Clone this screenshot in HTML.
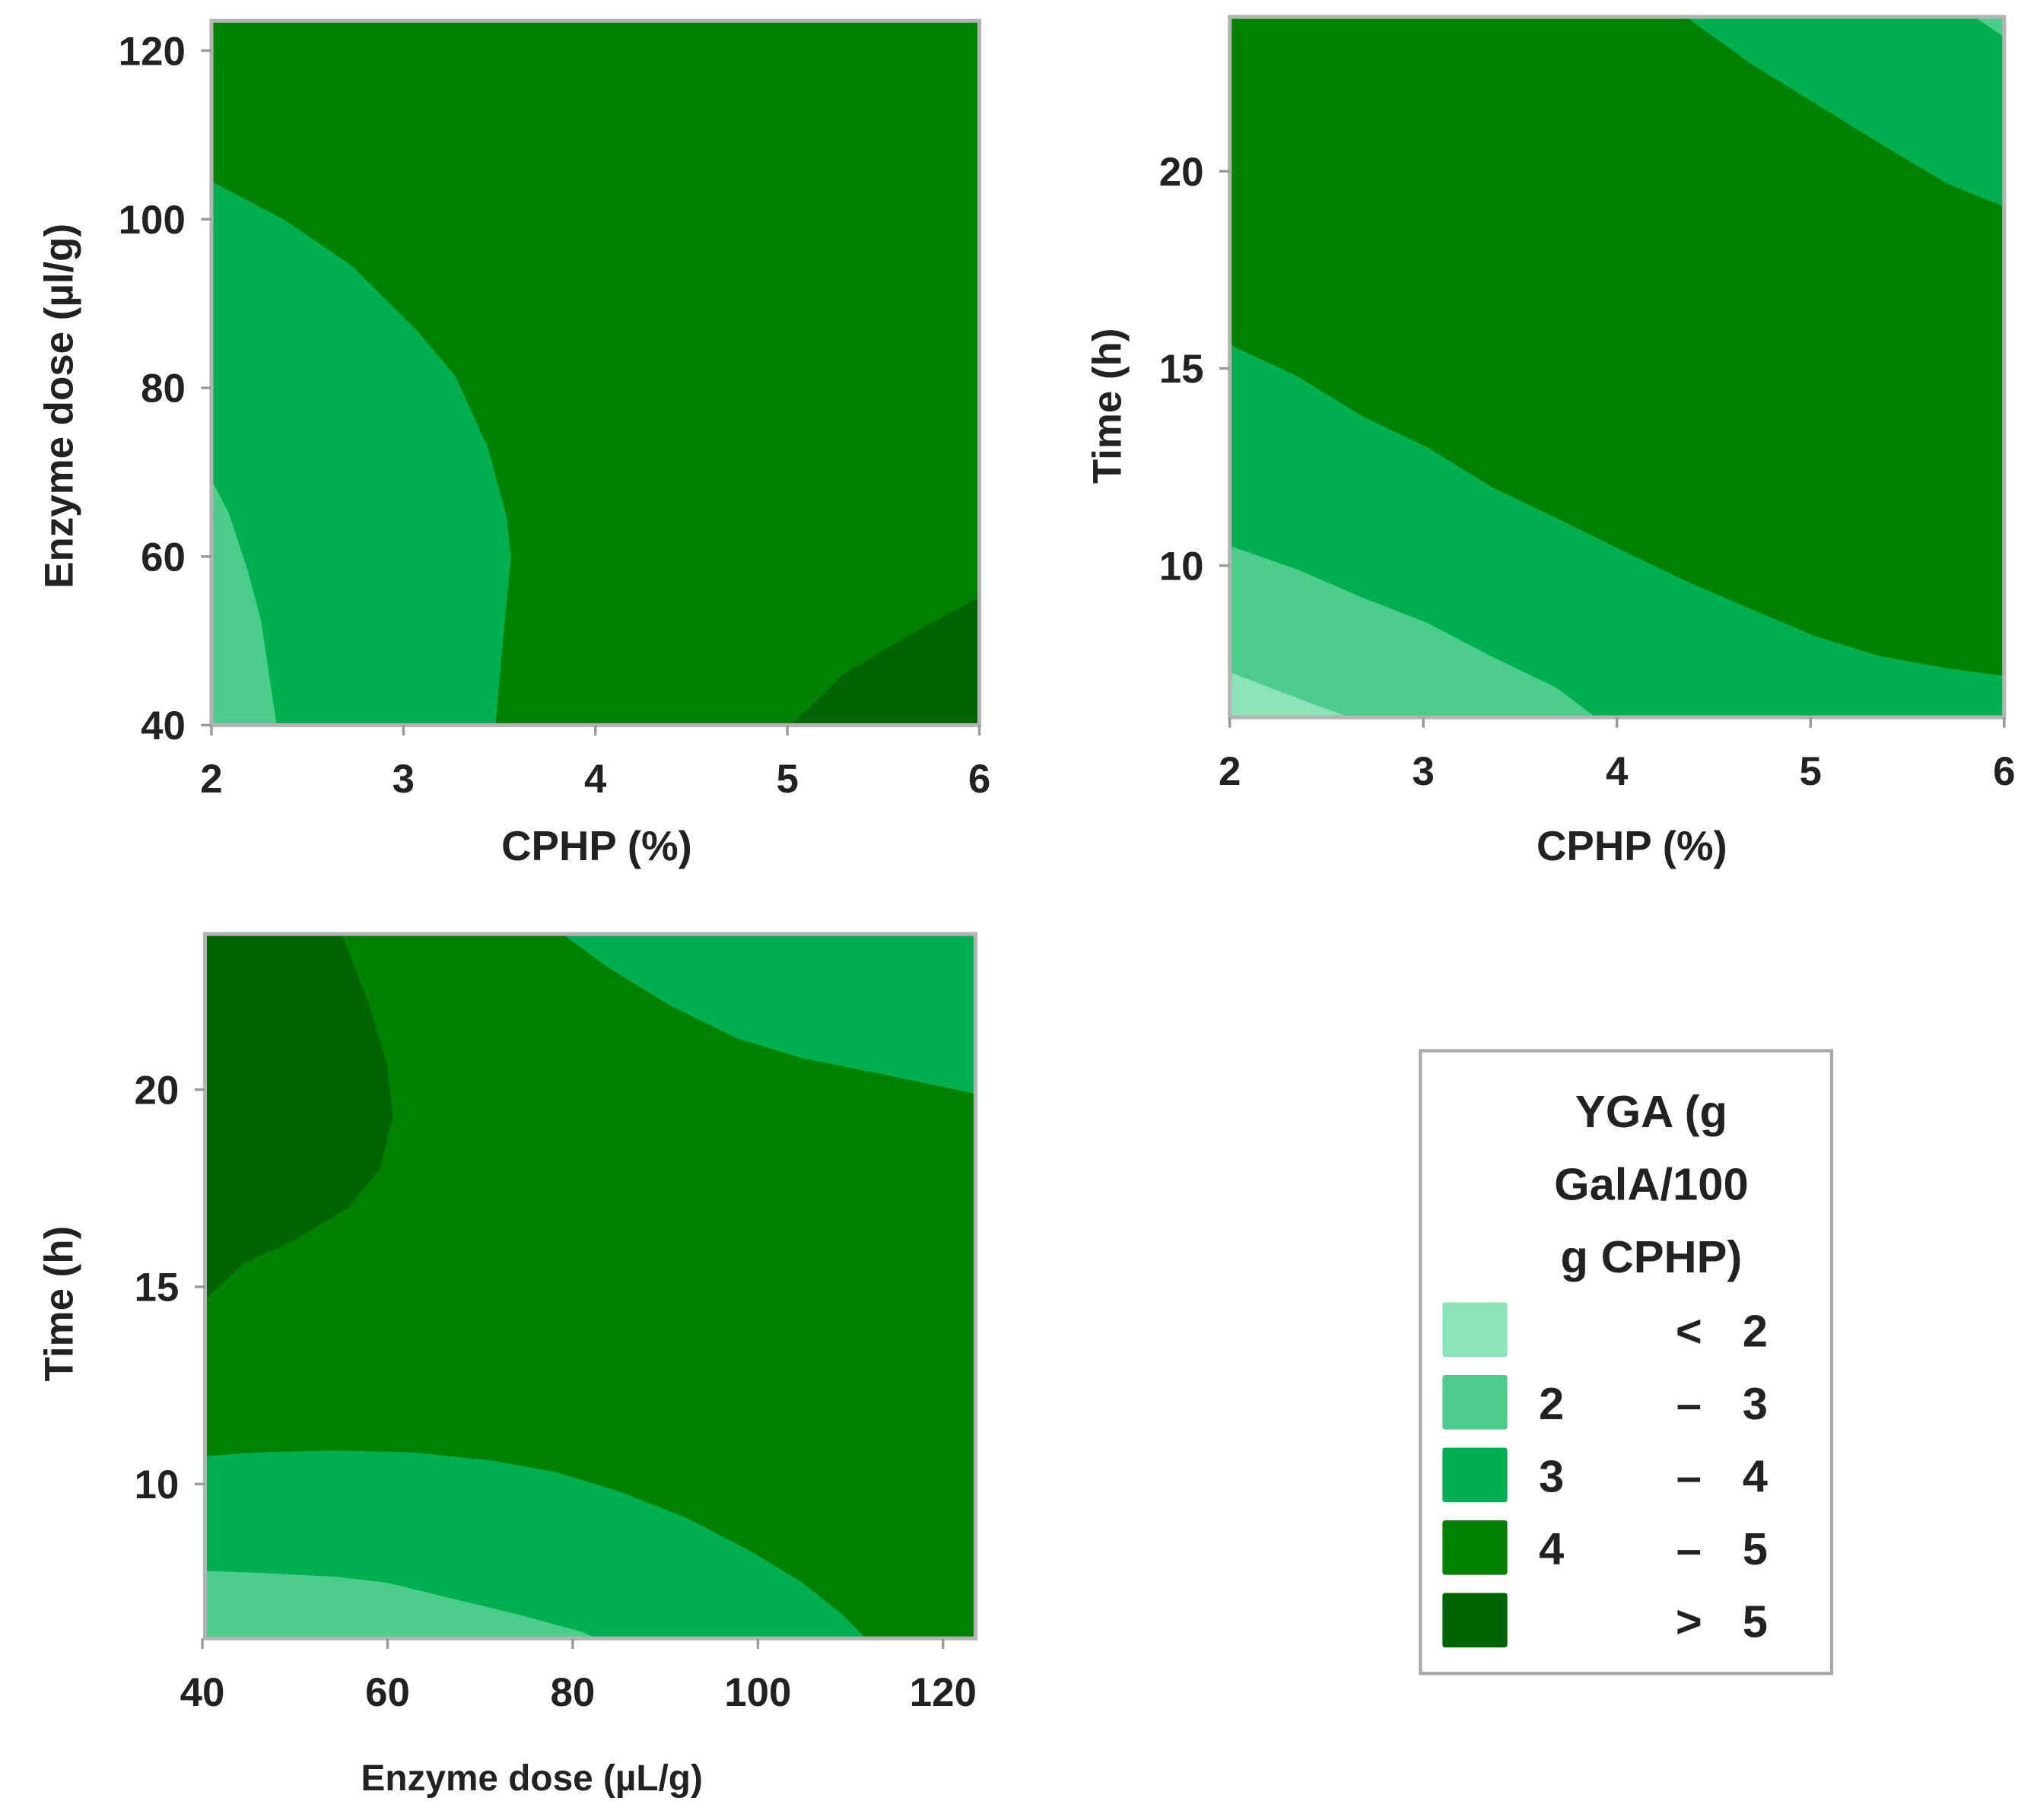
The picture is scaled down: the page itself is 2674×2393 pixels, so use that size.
<!DOCTYPE html>
<html><head><meta charset="utf-8">
<style>
html,body{margin:0;padding:0;background:#fff;}
svg{display:block;}
text{font-family:"Liberation Sans",sans-serif;fill:#222;font-weight:bold;}
</style></head>
<body>
<svg id="fig" width="2674" height="2393" viewBox="0 0 1568 1403" preserveAspectRatio="none" xmlns="http://www.w3.org/2000/svg"></svg>
<script>
// ---- data ----
const levelColors = ["#8be3b7", "#4ccd8b", "#00b050", "#008200", "#006400"];
const levelNames = ["lt2", "2to3", "3to4", "4to5", "gt5"];
const legendLow = ["", "2", "3", "4", ""];
const legendSep = ["<", "–", "–", "–", ">"];
const legendHigh = ["2", "3", "4", "5", "5"];

// Panel 1: CPHP (%) vs Enzyme dose
const p1XTicks = [2, 3, 4, 5, 6];
const p1YTicks = [40, 60, 80, 100, 120];
const p1Base = 3;
const p1Region34 = [[2,104.5],[2.39,99.8],[2.73,94.5],[3.07,86.8],[3.27,81.4],[3.44,72.9],[3.54,64.5],[3.56,59.8],[3.52,50.6],[3.48,40],[2,40]];
const p1Region23 = [[2,69.1],[2.09,65.2],[2.19,58.3],[2.26,52.2],[2.30,46],[2.34,40],[2,40]];
const p1RegionGt5 = [[5.02,40],[5.29,46],[5.63,50.6],[6,55.2],[6,40]];

// Panel 2: CPHP (%) vs Time
const p2XTicks = [2, 3, 4, 5, 6];
const p2YTicks = [10, 15, 20];
const p2Base = 3;
const p2RegionTop34 = [[4.36,23.9],[4.70,22.7],[5.03,21.7],[5.36,20.7],[5.70,19.7],[6,19.1],[6,23.9]];
const p2RegionTop23 = [[5.85,23.9],[6,23.4],[6,23.9]];
const p2RegionLow34 = [[2,15.6],[2.35,14.8],[2.68,13.8],[3.02,13.0],[3.35,12.0],[3.69,11.2],[4.02,10.4],[4.36,9.6],[4.69,8.9],[5.03,8.2],[5.36,7.7],[5.70,7.4],[6,7.2],[6,6.15],[2,6.15]];
const p2Region23 = [[2,10.5],[2.35,9.9],[2.68,9.2],[3.02,8.55],[3.35,7.7],[3.69,6.9],[3.89,6.15],[2,6.15]];
const p2RegionLt2 = [[2,7.3],[2.21,6.9],[2.48,6.4],[2.62,6.15],[2,6.15]];

// Panel 3: Enzyme dose vs Time
const p3XTicks = [40, 60, 80, 100, 120];
const p3YTicks = [10, 15, 20];
const p3Base = 3;
const p3RegionGt5 = [[40,23.95],[55.0,23.95],[57.8,22.3],[59.9,20.7],[60.6,19.35],[59.2,18.0],[55.7,17.0],[50.1,16.2],[44.5,15.6],[40,14.6]];
const p3RegionTop34 = [[78.9,23.95],[83.8,23.1],[90.8,22.1],[97.8,21.3],[104.8,20.8],[113.3,20.4],[123.4,19.9],[123.4,23.95]];
const p3RegionLow34 = [[40,10.7],[45.9,10.8],[54.3,10.85],[62.7,10.8],[71.2,10.6],[78.2,10.3],[85.2,9.8],[92.2,9.15],[99.2,8.3],[104.8,7.5],[109.1,6.7],[111.6,6.1],[40,6.1]];
const p3Region23 = [[40,7.8],[45.9,7.75],[54.3,7.65],[59.9,7.5],[66.9,7.1],[74,6.7],[81,6.25],[82.4,6.1],[40,6.1]];

// ---- rendering ----
const NS = "http://www.w3.org/2000/svg";
const svg = document.getElementById("fig");
function mk(tag, attrs, parent){const e=document.createElementNS(NS,tag);for(const k in attrs)e.setAttribute(k,attrs[k]);(parent||svg).appendChild(e);return e;}
function lin(d0,d1,r0,r1){return v=>r0+(v-d0)*(r1-r0)/(d1-d0);}

function panel(cfg){
  const g = mk("g",{});
  
  
  const sx=cfg.sx, sy=cfg.sy;
  const clipId=cfg.name+"-clip";
  const cp=mk("clipPath",{id:clipId},g);
  mk("rect",{x:cfg.L,y:cfg.T,width:cfg.R-cfg.L,height:cfg.B-cfg.T},cp);
  const bg=mk("rect",{x:cfg.L,y:cfg.T,width:cfg.R-cfg.L,height:cfg.B-cfg.T,fill:levelColors[cfg.base]},g);
  
  
  const rg=mk("g",{"clip-path":"url(#"+clipId+")"},g);
  cfg.regions.forEach(r=>{
    const pts=r.pts.map(p=>sx(p[0]).toFixed(1)+","+sy(p[1]).toFixed(1)).join(" ");
    const pg=mk("polygon",{points:pts,fill:levelColors[r.lvl]},rg);
    
    
  });
  const fr=mk("rect",{x:cfg.L,y:cfg.T,width:cfg.R-cfg.L,height:cfg.B-cfg.T,fill:"none",stroke:"#b4b4b4","stroke-width":3},g);
  
  
  cfg.xt.forEach(v=>{
    const x=sx(v);
    const tk=mk("line",{x1:x,x2:x,y1:cfg.B,y2:cfg.B+8,stroke:"#999","stroke-width":2},g);
    
    
    const t=mk("text",{x:x,y:cfg.B+52,"text-anchor":"middle","font-size":31},g);
    t.textContent=v;
    
    
  });
  cfg.yt.forEach(v=>{
    const y=sy(v);
    const tk=mk("line",{x1:cfg.L-8,x2:cfg.L,y1:y,y2:y,stroke:"#999","stroke-width":2},g);
    
    
    const t=mk("text",{x:cfg.L-20,y:y+11,"text-anchor":"end","font-size":31},g);
    t.textContent=v;
    
    
  });
  const xt=mk("text",{x:cfg.xtx,y:cfg.xty,"text-anchor":"middle","font-size":cfg.xfs},g);
  xt.textContent=cfg.xtitle;
  
  
  const yt=mk("text",{x:0,y:0,"text-anchor":"middle","font-size":31,transform:"translate("+cfg.ytx+","+cfg.yty+") rotate(-90)"},g);
  yt.textContent=cfg.ytitle;
  
  
}

panel({name:"panel-cphp-enzyme",L:163,R:755,T:16,B:559,
  sx:lin(2,6,163,755), sy:lin(40,120,559,39),
  base:p1Base, xt:p1XTicks, yt:p1YTicks,
  regions:[{pts:p1Region34,lvl:2},{pts:p1Region23,lvl:1},{pts:p1RegionGt5,lvl:4}],
  xtitle:"CPHP (%)", xtx:460, xty:663, xfs:32,
  ytitle:"Enzyme dose (µl/g)", ytx:56, yty:313});

panel({name:"panel-cphp-time",L:948,R:1545,T:13,B:553,
  sx:lin(2,6,948,1545), sy:lin(10,20,436,132),
  base:p2Base, xt:p2XTicks, yt:p2YTicks,
  regions:[{pts:p2RegionTop34,lvl:2},{pts:p2RegionTop23,lvl:1},{pts:p2RegionLow34,lvl:2},{pts:p2Region23,lvl:1},{pts:p2RegionLt2,lvl:0}],
  xtitle:"CPHP (%)", xtx:1258, xty:663, xfs:32,
  ytitle:"Time (h)", ytx:864, yty:313});

panel({name:"panel-enzyme-time",L:158,R:752,T:720,B:1263,
  sx:lin(40,120,156,727), sy:lin(10,20,1144,840),
  base:p3Base, xt:p3XTicks, yt:p3YTicks,
  regions:[{pts:p3RegionGt5,lvl:4},{pts:p3RegionTop34,lvl:2},{pts:p3RegionLow34,lvl:2},{pts:p3Region23,lvl:1}],
  xtitle:"Enzyme dose (µL/g)", xtx:410, xty:1380, xfs:28,
  ytitle:"Time (h)", ytx:56, yty:1005});

// legend
const lg=mk("g",{});


const lb=mk("rect",{x:1095,y:810,width:317,height:480,fill:"#fff",stroke:"#a8a8a8","stroke-width":2.5},lg);


["YGA (g","GalA/100","g CPHP)"].forEach((s,i)=>{
  const t=mk("text",{x:1273,y:869+i*56,"text-anchor":"middle","font-size":35,"font-weight":"normal"},lg);
  t.textContent=s;
  
  
});
levelColors.forEach((c,i)=>{
  const y=1004+i*56;
  const sw=mk("rect",{x:1112,y:y,width:50,height:42,fill:c,rx:2},lg);
  
  
  const a=mk("text",{x:1196,y:y+34,"text-anchor":"middle","font-size":35,"font-weight":"normal"},lg);
  a.textContent=legendLow[i];
  
  
  const b=mk("text",{x:1302,y:y+34,"text-anchor":"middle","font-size":35,"font-weight":"normal"},lg);
  b.textContent=legendSep[i];
  
  
  const h=mk("text",{x:1353,y:y+34,"text-anchor":"middle","font-size":35,"font-weight":"normal"},lg);
  h.textContent=legendHigh[i];
  
  
});
</script>
</body></html>
